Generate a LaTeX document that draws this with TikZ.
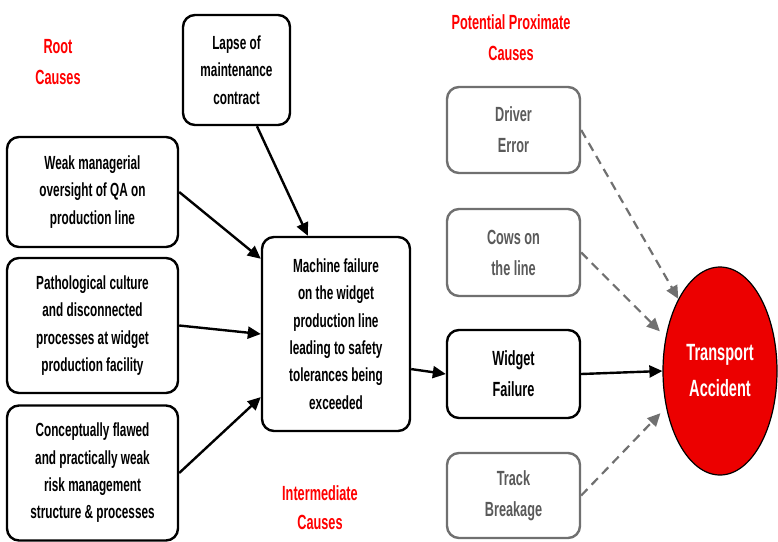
\documentclass[tikz,border=0pt]{standalone}
\usepackage{fontspec}
\setmainfont{Liberation Sans}[FakeStretch=0.62]
\usetikzlibrary{arrows.meta,shapes.geometric}
\definecolor{accred}{RGB}{236,0,0}
\definecolor{lblred}{RGB}{255,0,0}
\definecolor{boxgray}{RGB}{112,112,112}
\definecolor{txtgray}{RGB}{90,90,90}
\begin{document}
\begin{tikzpicture}[x=1pt,y=-1pt,
  cbox/.style={draw=black,line width=2.4pt,rounded corners=12pt,fill=white,
    align=center,inner sep=0pt,font=\fontsize{19}{27.3}\selectfont\bfseries},
  rbox/.style={cbox,font=\fontsize{20.5}{31}\selectfont\bfseries},
  gbox/.style={rbox,draw=boxgray,text=txtgray},
  lbl/.style={align=center,text=lblred,font=\fontsize{20.5}{31}\selectfont\bfseries},
  solidarr/.style={line width=2.4pt,-{Triangle[length=13pt,width=12pt]}},
  dasharr/.style={line width=2.2pt,draw=boxgray,dash pattern=on 9pt off 6pt,
    -{Triangle[length=13pt,width=12pt,fill=boxgray]}}
]
\useasboundingbox (0,0) rectangle (778,541);

\node[lbl] (rootlbl) at (58,62) {Root\\Causes};
\node[lbl] (proxlbl) at (511,38) {Potential Proximate\\Causes};
\node[lbl,font=\fontsize{20.5}{29}\selectfont\bfseries] (interlbl) at (320,508) {Intermediate\\Causes};

\node[cbox,minimum width=107pt,minimum height=110pt] (lapse) at (236.5,70)
  {Lapse of\\maintenance\\contract};
\node[cbox,minimum width=171pt,minimum height=110pt] (weak) at (92.5,192)
  {Weak managerial\\oversight of QA on\\production line};
\node[cbox,minimum width=171pt,minimum height=135pt] (path) at (92.5,325.5)
  {Pathological culture\\and disconnected\\processes at widget\\production facility};
\node[cbox,minimum width=171pt,minimum height=135pt] (concept) at (92.5,473)
  {Conceptually flawed\\and practically weak\\risk management\\structure \& processes};
\node[cbox,minimum width=148pt,minimum height=194pt] (machine) at (336,334)
  {Machine failure\\on the widget\\production line\\leading to safety\\tolerances being\\exceeded};

\node[gbox,minimum width=133pt,minimum height=86pt] (driver) at (513.5,130)
  {Driver\\Error};
\node[gbox,minimum width=133pt,minimum height=87pt] (cows) at (513.5,252.5)
  {Cows on\\the line};
\node[rbox,minimum width=133pt,minimum height=88pt] (widget) at (513.5,374)
  {Widget\\Failure};
\node[gbox,minimum width=133pt,minimum height=85pt] (track) at (513.5,495.5)
  {Track\\Breakage};

\node[ellipse,draw=black,line width=1.2pt,fill=accred,minimum width=114pt,
  minimum height=208pt,inner sep=0pt,align=center,text=white,
  font=\fontsize{23.5}{36}\selectfont\bfseries] (ta) at (720,371)
  {Transport\\Accident};

\draw[solidarr] (lapse.-70) -- (machine.106);
\draw[solidarr] (weak.east) -- (machine.135);
\draw[solidarr] (path.east) -- (machine.west);
\draw[solidarr] (concept.east) -- (machine.220);
\draw[solidarr] (machine.-25) -- (widget.west);
\draw[solidarr] (widget.east) -- (ta.west);

\draw[dasharr] (driver.east) -- (ta.120);
\draw[dasharr,shorten >=8pt] (cows.east) -- (ta.148);
\draw[dasharr,shorten >=8pt] (track.east) -- (ta.214);
\end{tikzpicture}
\end{document}
